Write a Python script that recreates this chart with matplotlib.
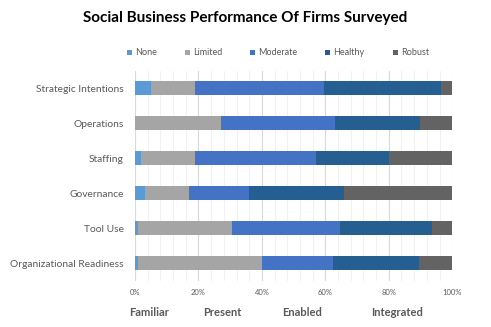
import numpy as np
import matplotlib.pyplot as plt
from matplotlib.ticker import MultipleLocator, FuncFormatter

plt.rcParams['font.family'] = ['Lato', 'DejaVu Sans']

categories = ["Strategic Intentions", "Operations", "Staffing",
              "Governance", "Tool Use", "Organizational Readiness"]
levels = ["None", "Limited", "Moderate", "Healthy", "Robust"]
none = [5, 0, 2, 3, 1, 1]
limited = [14, 27, 17, 14, 29.5, 39]
moderate = [40.5, 36, 38, 19, 34, 22.5]
healthy = [37, 27, 23, 30, 29, 27]
robust = [3.5, 10, 20, 34, 6.5, 10.5]
stages = ["Familiar", "Present", "Enabled", "Integrated"]
stage_x = [149, 222, 302, 397]

colors = ["#5B9BD5", "#A5A5A5", "#4472C4", "#255E91", "#636363"]
series = [none, limited, moderate, healthy, robust]

fig = plt.figure(figsize=(4.91, 3.27), dpi=100)
ax = fig.add_axes([0.275, 0.142, 0.646, 0.642])

y = np.arange(len(categories))[::-1]
left = np.zeros(len(categories))
for name, vals, c in zip(levels, series, colors):
    vals = np.array(vals, dtype=float)
    ax.barh(y, vals, left=left, height=0.4, color=c, label=name, zorder=3)
    left += vals

ax.set_xlim(0, 100)
ax.set_ylim(-0.5, len(categories) - 0.5)
ax.set_yticks(y)
ax.set_yticklabels(categories, fontsize=7.4, color="#595959")
ax.xaxis.set_major_locator(MultipleLocator(20))
ax.xaxis.set_minor_locator(MultipleLocator(4))
ax.xaxis.set_major_formatter(FuncFormatter(lambda v, p: f"{int(v)}%"))
ax.tick_params(axis="x", labelsize=5.5, colors="#595959", length=0, pad=6)
ax.tick_params(axis="x", which="minor", length=0)
ax.tick_params(axis="y", length=0, pad=8)
ax.grid(axis="x", which="major", color="#D9D9D9", linewidth=0.8, zorder=0)
ax.grid(axis="x", which="minor", color="#EFEFEF", linewidth=0.6, zorder=0)
for s in ax.spines.values():
    s.set_visible(False)

fig.text(0.5, 0.945, "Social Business Performance Of Firms Surveyed",
         ha="center", va="center", fontsize=11, fontweight="bold")

leg = fig.legend(loc="center", bbox_to_anchor=(0.566, 0.838), ncol=5,
                 frameon=False, fontsize=6.5, handlelength=0.55, handleheight=0.55,
                 columnspacing=3.1, handletextpad=0.35)
for t in leg.get_texts():
    t.set_color("#595959")

for label, px in zip(stages, stage_x):
    fig.text(px / 491, 1 - 313 / 327, label, ha="center", va="center",
             fontsize=8, fontweight="bold", color="#595959")

fig.savefig("out.png", dpi=100)
